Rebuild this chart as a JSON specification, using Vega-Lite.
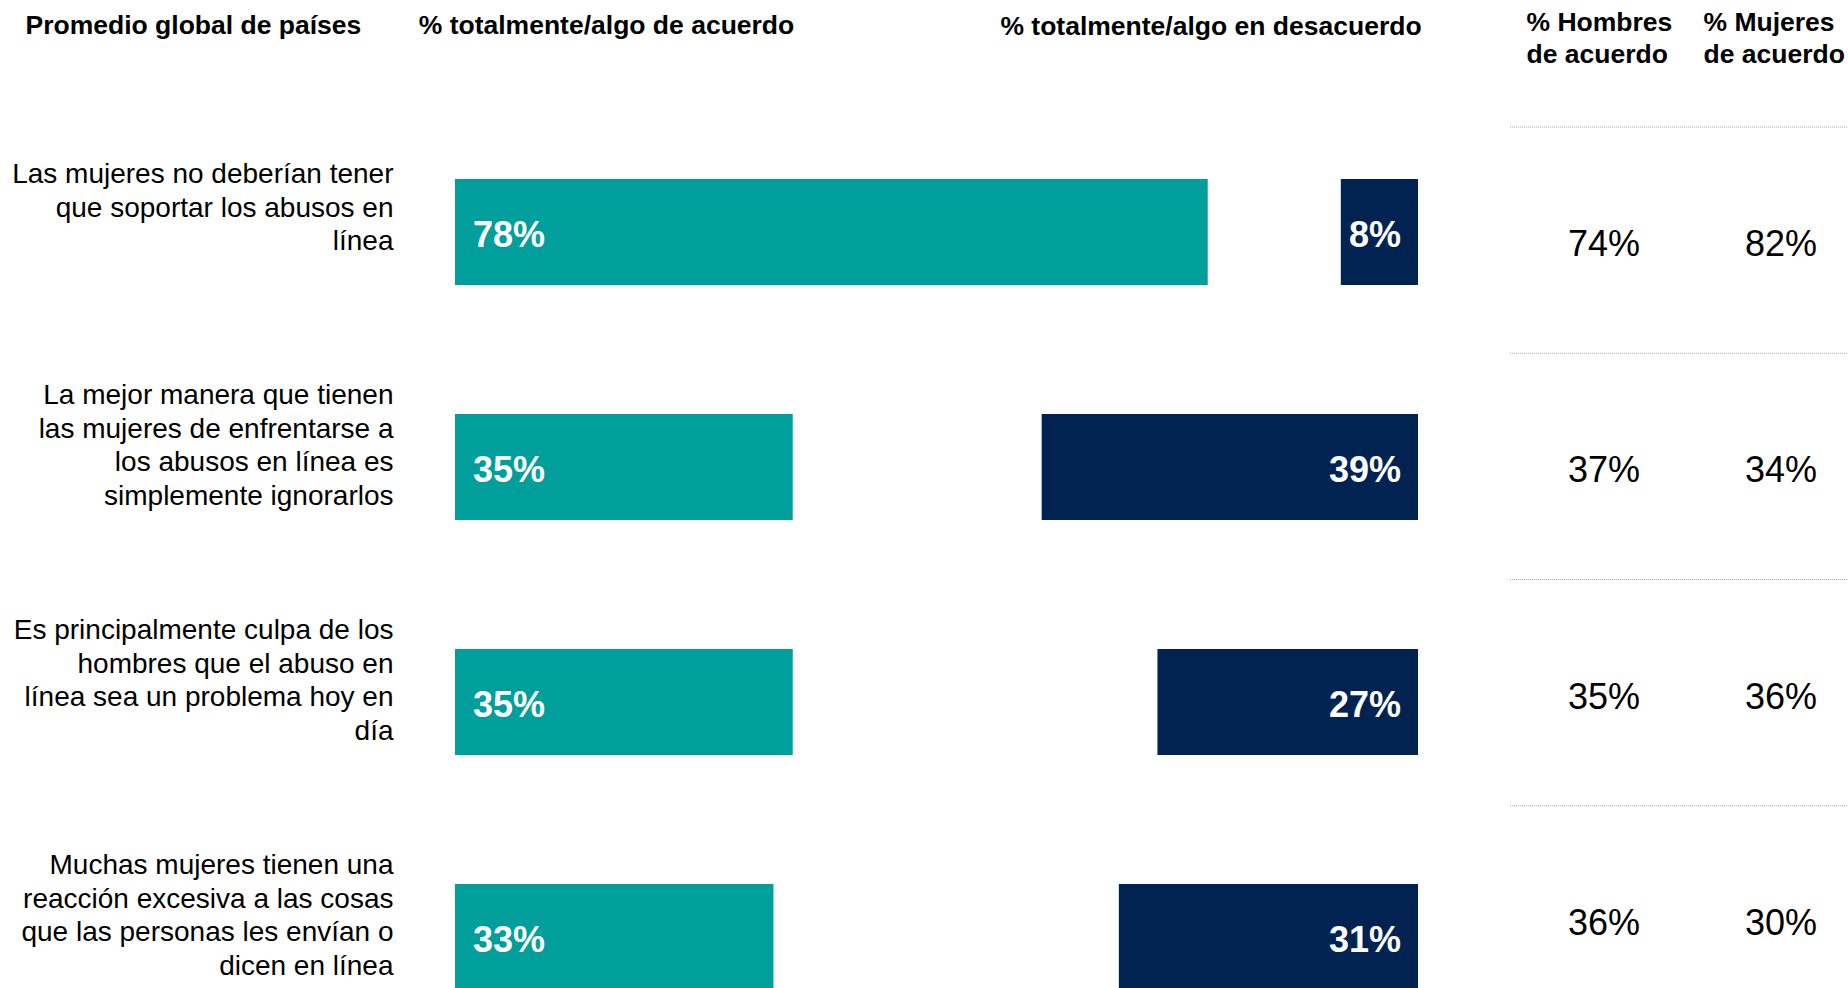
{
  "$schema": "https://vega.github.io/schema/vega-lite/v6.json",
  "width": 1393,
  "height": 988,
  "autosize": {"type": "none"},
  "padding": {"left": 455, "top": 0, "right": 0, "bottom": 0},
  "background": "white",
  "config": {
    "view": {"stroke": null},
    "font": "Liberation Sans",
    "text": {"font": "Liberation Sans"},
    "axis": {"labelFont": "Liberation Sans", "titleFont": "Liberation Sans"}
  },
  "datasets": {
    "encuesta": [
      {"pregunta": "Las mujeres no deberían tener\nque soportar los abusos en\nlínea", "acuerdo": 0.78, "desacuerdo": 0.08, "hombres": 0.74, "mujeres": 0.82},
      {"pregunta": "La mejor manera que tienen\nlas mujeres de enfrentarse a\nlos abusos en línea es\nsimplemente ignorarlos", "acuerdo": 0.35, "desacuerdo": 0.39, "hombres": 0.37, "mujeres": 0.34},
      {"pregunta": "Es principalmente culpa de los\nhombres que el abuso en\nlínea sea un problema hoy en\ndía", "acuerdo": 0.35, "desacuerdo": 0.27, "hombres": 0.35, "mujeres": 0.36},
      {"pregunta": "Muchas mujeres tienen una\nreacción excesiva a las cosas\nque las personas les envían o\ndicen en línea", "acuerdo": 0.33, "desacuerdo": 0.31, "hombres": 0.36, "mujeres": 0.30}
    ]
  },
  "data": {"name": "encuesta"},
  "resolve": {"scale": {"x": "independent", "y": "independent"}},
  "layer": [
    {
      "encoding": {
        "y": {
          "field": "pregunta", "type": "nominal", "sort": null,
          "scale": {"type": "band", "range": [114.5, 1054.5], "paddingInner": 0.549, "paddingOuter": 0.2745},
          "axis": {
            "orient": "left", "domain": false, "ticks": false, "tickSize": 0, "grid": false,
            "labelPadding": 62, "labelFontSize": 28, "labelColor": "#000000",
            "labelLineHeight": 33.5,
            "labelOffset": {"condition": {"test": "length(split(datum.value, '\\n')) == 3", "value": -57}, "value": -71},
            "labelAlign": "right", "labelBaseline": "middle",
            "labelExpr": "split(datum.label, '\\n')", "labelLimit": 1000, "labelOverlap": false, "labelBound": false,
            "title": "Promedio global de países", "titleAngle": 0, "titleX": -430, "titleY": 33,
            "titleAlign": "left", "titleBaseline": "alphabetic", "titleAnchor": null,
            "titleFontSize": 26.5, "titleFontWeight": "bold", "titleColor": "#000000"
          }
        }
      },
      "layer": [
        {
          "mark": {"type": "bar", "color": "#009F9B"},
          "encoding": {
            "x": {
              "field": "acuerdo", "type": "quantitative",
              "scale": {"domain": [0, 1], "range": [0, 965]},
              "axis": {
                "orient": "top", "domain": false, "ticks": false, "labels": false, "grid": false,
                "title": "% totalmente/algo de acuerdo", "titleX": 151, "titleY": 33,
                "titleAlign": "center", "titleBaseline": "alphabetic", "titleAnchor": null,
                "titleFontSize": 26.5, "titleFontWeight": "bold", "titleColor": "#000000"
              }
            }
          }
        },
        {
          "mark": {"type": "text", "align": "left", "baseline": "middle", "dx": 18, "dy": 4, "fontSize": 36, "fontWeight": "bold", "color": "#ffffff"},
          "encoding": {
            "x": {"datum": 0, "type": "quantitative"},
            "text": {"field": "acuerdo", "type": "quantitative", "format": ".0%"}
          }
        }
      ]
    },
    {
      "encoding": {
        "y": {
          "field": "pregunta", "type": "nominal", "sort": null,
          "scale": {"type": "band", "range": [114.5, 1054.5], "paddingInner": 0.549, "paddingOuter": 0.2745},
          "axis": null
        }
      },
      "layer": [
        {
          "mark": {"type": "bar", "color": "#002352"},
          "encoding": {
            "x": {
              "field": "desacuerdo", "type": "quantitative",
              "scale": {"domain": [0, 1], "range": [963, -2]},
              "axis": {
                "orient": "top", "domain": false, "ticks": false, "labels": false, "grid": false,
                "title": "% totalmente/algo en desacuerdo", "titleX": 755.5, "titleY": 34,
                "titleAlign": "center", "titleBaseline": "alphabetic", "titleAnchor": null,
                "titleFontSize": 26.5, "titleFontWeight": "bold", "titleColor": "#000000"
              }
            }
          }
        },
        {
          "mark": {"type": "text", "align": "right", "baseline": "middle", "dx": -17, "dy": 4, "fontSize": 36, "fontWeight": "bold", "color": "#ffffff"},
          "encoding": {
            "x": {"datum": 0, "type": "quantitative"},
            "text": {"field": "desacuerdo", "type": "quantitative", "format": ".0%"}
          }
        }
      ]
    },
    {
      "transform": [{"fold": ["hombres", "mujeres"], "as": ["grupo", "valor"]}],
      "mark": {"type": "text", "align": "center", "baseline": "middle", "dy": 5, "fontSize": 36, "color": "#000000"},
      "encoding": {
        "y": {
          "field": "pregunta", "type": "nominal", "sort": null,
          "scale": {"type": "band", "range": [127, 1032], "paddingInner": 0, "paddingOuter": 0},
          "axis": null
        },
        "x": {
          "field": "grupo", "type": "nominal",
          "scale": {"type": "point", "domain": ["hombres", "mujeres"], "range": [1149, 1326], "padding": 0},
          "axis": {
            "orient": "top", "domain": false, "ticks": false, "tickSize": 0, "grid": false, "title": null,
            "labelAngle": 0,
            "labelExpr": "datum.value == 'hombres' ? ['% Hombres', 'de acuerdo'] : ['% Mujeres', 'de acuerdo']",
            "labelAlign": "left", "labelOffset": -78, "labelBaseline": "alphabetic", "labelPadding": -30,
            "labelFontSize": 26.5, "labelFontWeight": "bold", "labelColor": "#000000", "labelLineHeight": 32,
            "labelOverlap": false, "labelBound": false, "labelFlush": false, "labelLimit": 1000
          }
        },
        "text": {"field": "valor", "type": "quantitative", "format": ".0%"}
      }
    },
    {
      "mark": {"type": "rule", "color": "#a6a6a6", "strokeDash": [1, 1], "strokeWidth": 1},
      "encoding": {
        "y": {
          "field": "pregunta", "type": "nominal", "sort": null, "bandPosition": 0,
          "scale": {"type": "band", "range": [127, 1032], "paddingInner": 0, "paddingOuter": 0},
          "axis": null
        },
        "x": {"datum": 1.0933, "type": "quantitative", "scale": {"domain": [0, 1], "range": [0, 965]}, "axis": null},
        "x2": {"datum": 1.4435}
      }
    }
  ]
}
